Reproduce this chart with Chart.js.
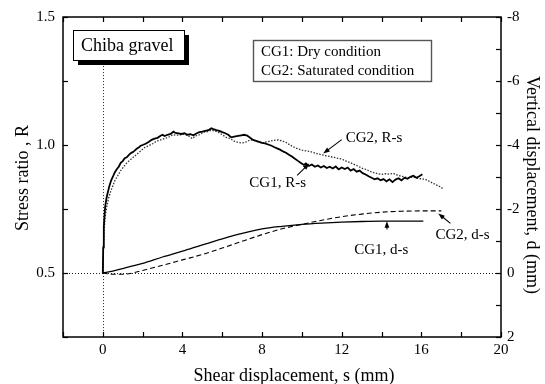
<!DOCTYPE html>
<html>
<head>
<meta charset="utf-8">
<script src="https://cdn.jsdelivr.net/npm/chart.js@4.4.0/dist/chart.umd.min.js"></script>
<style>
    html, body { margin: 0; padding: 0; background: #fff; }
</style>
</head>
<body>
<canvas id="shearChart" width="545" height="384"></canvas>
<script>
// --- DATA ---
// CG1: dry, stress ratio R vs shear displacement s
const cg1RsS = [0, 0.02, 0.05, 0.08, 0.12, 0.18, 0.25, 0.33, 0.42, 0.5, 0.6, 0.7, 0.8, 0.9, 1.0, 1.1, 1.2, 1.3, 1.4, 1.5,
    1.6, 1.7, 1.8, 1.9, 2.0, 2.15, 2.3, 2.45, 2.6, 2.75, 2.9, 3.0, 3.1, 3.25, 3.4, 3.55, 3.65, 3.8, 3.95, 4.1,
    4.25, 4.4, 4.55, 4.7, 4.85, 5.0, 5.15, 5.3, 5.45, 5.55, 5.7, 5.85, 6.0, 6.15, 6.3, 6.45, 6.6, 6.8, 6.95, 7.1,
    7.25, 7.4, 7.55, 7.7, 7.85, 8.0, 8.15, 8.3, 8.45, 8.6, 8.75, 8.9, 9.05, 9.2, 9.35, 9.5, 9.65, 9.8, 9.95, 10.1,
    10.2, 10.35, 10.5, 10.65, 10.8, 10.95, 11.1, 11.25, 11.4, 11.55, 11.7, 11.85, 12.0, 12.15, 12.3, 12.45, 12.6, 12.75, 12.9, 13.05,
    13.2, 13.35, 13.5, 13.65, 13.8, 13.95, 14.1, 14.25, 14.4, 14.55, 14.7, 14.85, 15.0, 15.15, 15.3, 15.45, 15.6, 15.75, 15.9, 16.05];
const cg1RsR = [0.50, 0.60, 0.68, 0.72, 0.76, 0.79, 0.815, 0.84, 0.862, 0.875, 0.893, 0.905, 0.915, 0.93, 0.937, 0.948, 0.952, 0.96, 0.968, 0.972,
    0.978, 0.985, 0.99, 0.997, 1.0, 1.005, 1.012, 1.02, 1.025, 1.028, 1.036, 1.04, 1.035, 1.04, 1.043, 1.052, 1.047, 1.045, 1.043, 1.046,
    1.04, 1.042, 1.038, 1.045, 1.05, 1.052, 1.055, 1.058, 1.065, 1.062, 1.058, 1.055, 1.05, 1.046, 1.04, 1.03, 1.033, 1.036, 1.038, 1.04,
    1.037, 1.028, 1.02, 1.016, 1.012, 1.008, 1.006, 1.002, 0.998, 0.992, 0.987, 0.982, 0.975, 0.97, 0.962, 0.955, 0.946, 0.938, 0.93, 0.922,
    0.928, 0.918, 0.924, 0.915, 0.92, 0.912, 0.918, 0.91, 0.915, 0.908, 0.916, 0.905, 0.912, 0.906, 0.912, 0.9, 0.906, 0.896, 0.9, 0.89,
    0.885, 0.878, 0.872, 0.866, 0.87, 0.862, 0.867, 0.858, 0.866, 0.855, 0.865, 0.87, 0.862, 0.872, 0.868, 0.876, 0.88, 0.872, 0.878, 0.886];

// CG2: saturated, stress ratio R vs s
const cg2RsS = [0, 0.03, 0.07, 0.12, 0.2, 0.3, 0.4, 0.5, 0.6, 0.75, 0.9, 1.05, 1.2, 1.35, 1.5, 1.65, 1.8, 1.95, 2.1, 2.3,
    2.5, 2.7, 2.9, 3.1, 3.3, 3.5, 3.7, 3.9, 4.1, 4.3, 4.5, 4.65, 4.85, 5.05, 5.25, 5.45, 5.6, 5.8, 6.0, 6.2,
    6.4, 6.6, 6.8, 7.0, 7.2, 7.4, 7.6, 7.8, 8.0, 8.2, 8.4, 8.6, 8.8, 9.0, 9.2, 9.4, 9.6, 9.8, 10.0, 10.2,
    10.4, 10.6, 10.8, 11.0, 11.2, 11.4, 11.6, 11.8, 12.0, 12.2, 12.4, 12.6, 12.8, 13.0, 13.2, 13.4, 13.6, 13.8, 14.0, 14.2,
    14.4, 14.6, 14.8, 15.0, 15.2, 15.4, 15.6, 15.8, 16.0, 16.2, 16.4, 16.6, 16.8, 17.0, 17.1];
const cg2RsR = [0.50, 0.60, 0.67, 0.72, 0.76, 0.795, 0.82, 0.84, 0.86, 0.88, 0.90, 0.915, 0.93, 0.94, 0.95, 0.96, 0.97, 0.98, 0.99, 0.997,
    1.005, 1.015, 1.02, 1.025, 1.03, 1.04, 1.038, 1.04, 1.042, 1.035, 1.025, 1.035, 1.04, 1.05, 1.052, 1.058, 1.055, 1.05, 1.04, 1.03,
    1.025, 1.015, 1.01, 1.008, 1.012, 1.02, 1.018, 1.012, 1.008, 1.012, 1.015, 1.018, 1.02, 1.016, 1.01, 1.0, 0.992, 0.985, 0.98, 0.977,
    0.975, 0.97, 0.965, 0.962, 0.958, 0.955, 0.952, 0.948, 0.945, 0.938, 0.932, 0.925, 0.918, 0.91, 0.905, 0.898, 0.892, 0.888, 0.885, 0.888,
    0.886, 0.889, 0.882, 0.878, 0.874, 0.872, 0.875, 0.87, 0.868, 0.866, 0.858, 0.85, 0.842, 0.835, 0.826];

// vertical displacement d (mm) vs s
const cg1DsS = [0, 0.5, 1, 1.5, 2, 3, 4, 5, 6, 7, 8, 9, 10, 11, 12, 13, 14, 15, 16.1];
const cg1DsD = [0, -0.06, -0.14, -0.22, -0.3, -0.5, -0.68, -0.88, -1.07, -1.24, -1.38, -1.46, -1.52, -1.56, -1.59, -1.61, -1.62, -1.62, -1.62];
const cg2DsS = [0, 0.5, 1, 1.5, 2, 3, 4, 5, 6, 7, 8, 9, 10, 11, 12, 13, 14, 15, 16, 17];
const cg2DsD = [0, 0.04, 0.04, 0, -0.08, -0.24, -0.41, -0.58, -0.78, -0.99, -1.2, -1.38, -1.52, -1.65, -1.76, -1.84, -1.9, -1.93, -1.94, -1.94];

// tick labels that are printed (other ticks are unlabeled)
const xTickLabels = ['0', '4', '8', '12', '16', '20'];
const yTickLabels = ['0.5', '1.0', '1.5'];
const y2TickLabels = ['-8', '-6', '-4', '-2', '0', '2'];

const FONT = 'Liberation Serif';

// text + arrow callouts, placed in data units
const callouts = [
    { text: 'CG2, R-s', axis: 'y', at: [12.2, 1.029], from: [12.0, 1.021], to: [11.07, 0.967] },
    { text: 'CG1, R-s', axis: 'y', at: [7.36, 0.85], from: [9.76, 0.881], to: [10.37, 0.928] },
    { text: 'CG2, d-s', axis: 'y2', at: [16.71, -1.18], from: [17.46, -1.55], to: [16.85, -1.86] },
    { text: 'CG1, d-s', axis: 'y2', at: [12.63, -0.71], from: [14.27, -1.36], to: [14.27, -1.62] }
];

function toPoints(xs, ys) {
    return xs.map((x, i) => ({ x: x, y: ys[i] }));
}

function drawArrow(ctx, x1, y1, x2, y2) {
    const ang = Math.atan2(y2 - y1, x2 - x1);
    const head = 7;
    ctx.beginPath();
    ctx.moveTo(x1, y1);
    ctx.lineTo(x2 - Math.cos(ang) * head * 0.8, y2 - Math.sin(ang) * head * 0.8);
    ctx.stroke();
    ctx.beginPath();
    ctx.moveTo(x2, y2);
    ctx.lineTo(x2 - head * Math.cos(ang - 0.35), y2 - head * Math.sin(ang - 0.35));
    ctx.lineTo(x2 - head * Math.cos(ang + 0.35), y2 - head * Math.sin(ang + 0.35));
    ctx.closePath();
    ctx.fill();
}

const overlayPlugin = {
    id: 'overlay',
    beforeDatasetsDraw(chart) {
        const { ctx, chartArea: a, scales } = chart;
        ctx.save();
        ctx.strokeStyle = '#222';
        ctx.lineWidth = 1;
        ctx.setLineDash([1, 2]);
        // dotted guide at R = 0.5 (d = 0)
        const yRef = Math.round(scales.y.getPixelForValue(0.5)) + 0.5;
        ctx.beginPath();
        ctx.moveTo(a.left, yRef);
        ctx.lineTo(a.right, yRef);
        ctx.stroke();
        // dotted guide at s = 0
        const xRef = Math.round(scales.x.getPixelForValue(0)) + 0.5;
        ctx.beginPath();
        ctx.moveTo(xRef, scales.y.getPixelForValue(1.32));
        ctx.lineTo(xRef, a.bottom);
        ctx.stroke();
        ctx.restore();
    },
    afterDraw(chart) {
        const { ctx, chartArea: a, scales } = chart;
        ctx.save();

        // frame
        ctx.strokeStyle = '#000';
        ctx.lineWidth = 1.5;
        ctx.strokeRect(a.left, a.top, a.right - a.left, a.bottom - a.top);

        // inward tick marks
        ctx.lineWidth = 1.2;
        const len = 5;
        scales.x.ticks.forEach(t => {
            const p = Math.round(scales.x.getPixelForValue(t.value)) + 0.5;
            ctx.beginPath();
            ctx.moveTo(p, a.bottom); ctx.lineTo(p, a.bottom - len);
            ctx.moveTo(p, a.top); ctx.lineTo(p, a.top + len);
            ctx.stroke();
        });
        scales.y.ticks.forEach(t => {
            const p = Math.round(scales.y.getPixelForValue(t.value)) + 0.5;
            ctx.beginPath();
            ctx.moveTo(a.left, p); ctx.lineTo(a.left + len, p);
            ctx.stroke();
        });
        scales.y2.ticks.forEach(t => {
            const p = Math.round(scales.y2.getPixelForValue(t.value)) + 0.5;
            ctx.beginPath();
            ctx.moveTo(a.right, p); ctx.lineTo(a.right - len, p);
            ctx.stroke();
        });

        // axis titles
        ctx.fillStyle = '#000';
        ctx.font = '18px "' + FONT + '"';
        ctx.textAlign = 'center';
        ctx.textBaseline = 'alphabetic';
        ctx.fillText('Shear displacement, s (mm)', 294, 381);

        ctx.save();
        ctx.translate(28, 178);
        ctx.rotate(-Math.PI / 2);
        ctx.fillText('Stress ratio , R', 0, 0);
        ctx.restore();

        ctx.save();
        ctx.translate(527, 185);
        ctx.rotate(Math.PI / 2);
        ctx.fillText('Vertical displacement, d (mm)', 0, 0);
        ctx.restore();

        // "Chiba gravel" box with drop shadow
        const bx = a.left + 10, by = a.top + 13, bw = 111, bh = 30;
        ctx.fillStyle = '#000';
        ctx.fillRect(bx + 5, by + 5, bw, bh);
        ctx.fillStyle = '#fff';
        ctx.fillRect(bx, by, bw, bh);
        ctx.lineWidth = 1;
        ctx.strokeStyle = '#000';
        ctx.strokeRect(bx + 0.5, by + 0.5, bw, bh);
        ctx.fillStyle = '#000';
        ctx.font = '18px "' + FONT + '"';
        ctx.textAlign = 'left';
        ctx.textBaseline = 'middle';
        ctx.fillText('Chiba gravel', bx + 8, by + bh / 2 + 1);

        // condition key box
        const lx = a.left + 190, ly = a.top + 23, lw = 178, lh = 41;
        ctx.strokeStyle = '#555';
        ctx.lineWidth = 1.4;
        ctx.strokeRect(lx + 0.5, ly + 0.5, lw, lh);
        ctx.font = '15px "' + FONT + '"';
        ctx.fillText('CG1: Dry condition', lx + 8, ly + 12);
        ctx.fillText('CG2: Saturated condition', lx + 8, ly + 31);

        // callouts
        ctx.strokeStyle = '#000';
        ctx.lineWidth = 1.1;
        callouts.forEach(c => {
            const ys = scales[c.axis];
            ctx.fillText(c.text, scales.x.getPixelForValue(c.at[0]), ys.getPixelForValue(c.at[1]));
            drawArrow(ctx,
                scales.x.getPixelForValue(c.from[0]), ys.getPixelForValue(c.from[1]),
                scales.x.getPixelForValue(c.to[0]), ys.getPixelForValue(c.to[1]));
        });

        ctx.restore();
    }
};

const tickFont = { family: FONT, size: 15 };

new Chart(document.getElementById('shearChart'), {
    type: 'line',
    data: {
        datasets: [
            {
                label: 'CG1, R-s',
                data: toPoints(cg1RsS, cg1RsR),
                yAxisID: 'y',
                borderColor: '#000',
                borderWidth: 1.8,
                pointRadius: 0,
                tension: 0
            },
            {
                label: 'CG2, R-s',
                data: toPoints(cg2RsS, cg2RsR),
                yAxisID: 'y',
                borderColor: '#333',
                borderWidth: 1.3,
                borderDash: [1.5, 1.5],
                pointRadius: 0,
                tension: 0
            },
            {
                label: 'CG1, d-s',
                data: toPoints(cg1DsS, cg1DsD),
                yAxisID: 'y2',
                borderColor: '#000',
                borderWidth: 1.3,
                pointRadius: 0,
                cubicInterpolationMode: 'monotone'
            },
            {
                label: 'CG2, d-s',
                data: toPoints(cg2DsS, cg2DsD),
                yAxisID: 'y2',
                borderColor: '#000',
                borderWidth: 1.1,
                borderDash: [5, 3],
                pointRadius: 0,
                cubicInterpolationMode: 'monotone'
            }
        ]
    },
    options: {
        responsive: false,
        animation: false,
        layout: { padding: { top: 16, left: 0, right: 0, bottom: 0 } },
        plugins: {
            legend: { display: false },
            tooltip: { enabled: false }
        },
        scales: {
            x: {
                type: 'linear',
                position: 'bottom',
                min: -2,
                max: 20,
                grid: { display: false, drawTicks: false },
                border: { display: false },
                ticks: {
                    stepSize: 2,
                    autoSkip: false,
                    maxRotation: 0,
                    padding: 4,
                    color: '#000',
                    font: tickFont,
                    callback: v => xTickLabels.includes(String(v)) ? String(v) : ''
                },
                afterFit: s => { s.height = 47; }
            },
            y: {
                type: 'linear',
                position: 'left',
                min: 0.25,
                max: 1.5,
                grid: { display: false, drawTicks: false },
                border: { display: false },
                ticks: {
                    stepSize: 0.25,
                    padding: 8,
                    color: '#000',
                    font: tickFont,
                    callback: v => yTickLabels.includes(v.toFixed(2).slice(0, 3)) && Math.abs(v * 2 - Math.round(v * 2)) < 1e-6 ? v.toFixed(1) : ''
                },
                afterFit: s => { s.width = 63; }
            },
            y2: {
                type: 'linear',
                position: 'right',
                min: -8,
                max: 2,
                reverse: true,
                grid: { display: false, drawTicks: false },
                border: { display: false },
                ticks: {
                    stepSize: 1,
                    padding: 6,
                    color: '#000',
                    font: tickFont,
                    callback: v => y2TickLabels.includes(String(Math.round(v))) && Math.round(v) % 2 === 0 ? String(Math.round(v)) : ''
                },
                afterFit: s => { s.width = 44; }
            }
        }
    },
    plugins: [overlayPlugin]
});
</script>
</body>
</html>
